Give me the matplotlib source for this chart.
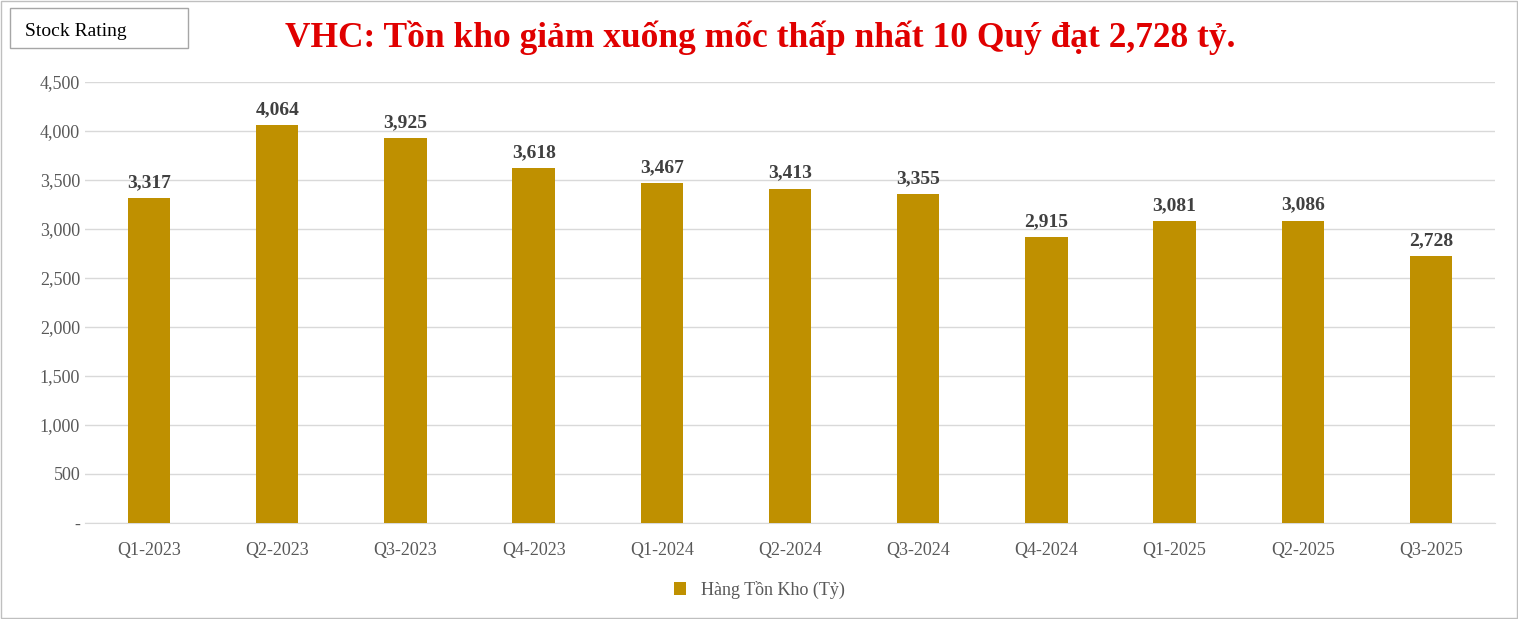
import matplotlib
matplotlib.use("Agg")
import matplotlib.pyplot as plt
from matplotlib.patches import Rectangle
from matplotlib.ticker import FuncFormatter

categories = ["Q1-2023","Q2-2023","Q3-2023","Q4-2023","Q1-2024","Q2-2024","Q3-2024","Q4-2024","Q1-2025","Q2-2025","Q3-2025"]
values = [3317, 4064, 3925, 3618, 3467, 3413, 3355, 2915, 3081, 3086, 2728]

plt.rcParams['font.family'] = ['Liberation Serif', 'DejaVu Serif']
fig = plt.figure(figsize=(15.18, 6.19), dpi=100)
ax = fig.add_axes([85/1518, 96/619, 1410/1518, 441/619])
color = "#BF9000"
bars = ax.bar(range(len(values)), values, width=0.33, color=color, zorder=3, label="Hàng Tồn Kho (Tỷ)")
for i, v in enumerate(values):
    ax.text(i, v + 70, f"{v:,}", ha="center", va="bottom", fontsize=14, fontweight="bold", color="#404040")
ax.set_xlim(-0.5, len(values) - 0.5)
ax.set_ylim(0, 4500)
ax.set_yticks(range(0, 4501, 500))
ax.yaxis.set_major_formatter(FuncFormatter(lambda v, p: "-" if v == 0 else f"{int(v):,}"))
ax.set_xticks(range(len(values)))
ax.set_xticklabels(categories)
ax.tick_params(axis="both", length=0, labelsize=13, colors="#595959")
ax.tick_params(axis="x", pad=14)
ax.grid(axis="y", color="#D9D9D9", linewidth=1, zorder=0)
for s in ["top", "right", "left"]:
    ax.spines[s].set_visible(False)
ax.spines["bottom"].set_color("#D9D9D9")

fig.text(760/1518, 1 - 38/619, "VHC: Tồn kho giảm xuống mốc thấp nhất 10 Quý đạt 2,728 tỷ.",
         ha="center", va="center", fontsize=25.5, fontweight="bold", color="#E00000")
fig.patches.append(Rectangle((10/1518, 1 - 48/619), 178/1518, 40/619, transform=fig.transFigure,
                             fill=False, edgecolor="#A6A6A6", linewidth=1))
fig.text(25/1518, 1 - 31/619, "Stock Rating", ha="left", va="center", fontsize=14, color="black")
fig.patches.append(Rectangle((1/1518, 1/619), 1516/1518, 617/619, transform=fig.transFigure,
                             fill=False, edgecolor="#BFBFBF", linewidth=1))
fig.legend(handles=[bars], loc="center", bbox_to_anchor=(0.5, 1 - 590/619), frameon=False,
           fontsize=13, handlelength=0.7, handleheight=0.7, labelcolor="#595959")
fig.savefig("out.png", dpi=100)
